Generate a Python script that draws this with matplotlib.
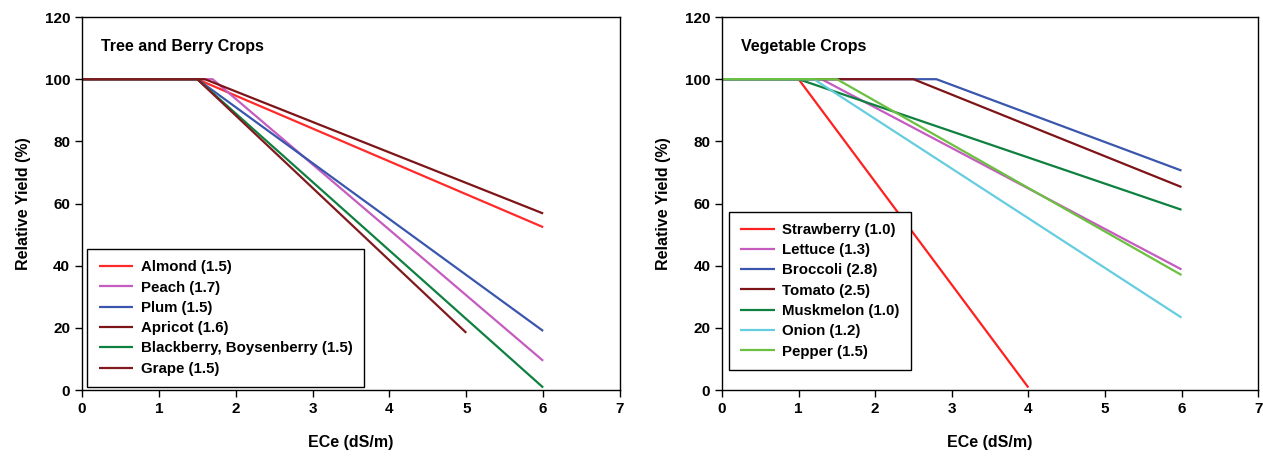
import matplotlib
matplotlib.use("Agg")
import matplotlib.pyplot as plt

plt.rcParams.update({"font.family": ["Liberation Sans", "DejaVu Sans"], "font.weight": "bold"})

# left panel: tree and berry crops, (ECe, relative yield) breakpoints
tree_names = ["Almond (1.5)", "Peach (1.7)", "Plum (1.5)", "Apricot (1.6)",
              "Blackberry, Boysenberry (1.5)", "Grape (1.5)"]
tree_x = [[0, 1.5, 6], [0, 1.7, 6], [0, 1.5, 6], [0, 1.6, 6], [0, 1.5, 6], [0, 1.5, 5]]
tree_y = [[100, 100, 52.4], [100, 100, 9.4], [100, 100, 19.0], [100, 100, 56.8],
          [100, 100, 0.8], [100, 100, 18.4]]
tree_cols = ["#ff2a2a", "#c55cbf", "#3a56ad", "#7d1417", "#0e8040", "#801a1e"]

# right panel: vegetable crops
veg_names = ["Strawberry (1.0)", "Lettuce (1.3)", "Broccoli (2.8)", "Tomato (2.5)",
             "Muskmelon (1.0)", "Onion (1.2)", "Pepper (1.5)"]
veg_x = [[0, 1.0, 4], [0, 1.3, 6], [0, 2.8, 6], [0, 2.5, 6], [0, 1.0, 6], [0, 1.2, 6], [0, 1.5, 6]]
veg_y = [[100, 100, 0.8], [100, 100, 38.8], [100, 100, 70.6], [100, 100, 65.3],
         [100, 100, 58.0], [100, 100, 23.3], [100, 100, 37.0]]
veg_cols = ["#ff2020", "#c55cbf", "#3a56ad", "#7d1417", "#0e8040", "#66cce0", "#6cc040"]

fig = plt.figure(figsize=(12.63, 4.61), dpi=100)
ax1 = fig.add_axes([0.0649, 0.154, 0.426, 0.809])
ax2 = fig.add_axes([0.5717, 0.154, 0.4244, 0.809])


def panel(ax, title, names, xs, ys, cols, leg_anchor):
    for n, x, y, c in zip(names, xs, ys, cols):
        ax.plot(x, y, color=c, lw=1.6, label=n, solid_capstyle="butt")
    ax.set_xlim(0, 7); ax.set_ylim(0, 120)
    ax.set_xticks(range(8)); ax.set_yticks(range(0, 121, 20))
    ax.tick_params(labelsize=11, length=5, width=1, direction="out")
    for lab in ax.get_xticklabels() + ax.get_yticklabels():
        lab.set_fontweight("bold")
    ax.set_xlabel("ECe (dS/m)", fontsize=11.5, fontweight="bold", labelpad=14)
    ax.set_ylabel("Relative Yield (%)", fontsize=11.5, fontweight="bold", labelpad=10)
    ax.text(0.035, 0.92, title, transform=ax.transAxes, fontsize=11.5, fontweight="bold",
            va="center")
    for s in ax.spines.values():
        s.set_linewidth(1.0)
    leg = ax.legend(loc="lower left", bbox_to_anchor=leg_anchor, prop={"size": 10.8, "weight": "bold"},
                    fancybox=False, framealpha=1, edgecolor="black", handlelength=2.3,
                    labelspacing=0.42, borderpad=0.75, handletextpad=0.5, borderaxespad=0)
    leg.get_frame().set_linewidth(1.0)


panel(ax1, "Tree and Berry Crops", tree_names, tree_x, tree_y, tree_cols, (0.01, 0.008))
panel(ax2, "Vegetable Crops", veg_names, veg_x, veg_y, veg_cols, (0.013, 0.054))

fig.savefig("out.png", dpi=100)
